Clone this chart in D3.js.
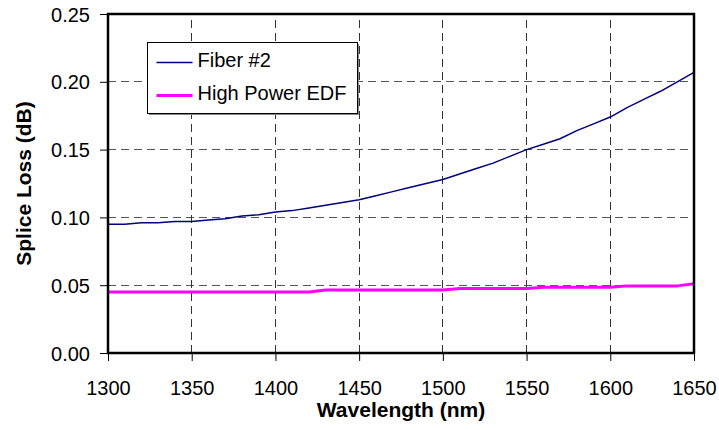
<!DOCTYPE html>
<html>
<head>
<meta charset="utf-8">
<script src="https://cdn.jsdelivr.net/npm/d3@7"></script>
<style>
  body { margin: 0; background: #fff; }
  svg { display: block; font-family: Arial, "Liberation Sans", sans-serif; }
</style>
</head>
<body>
<div id="chart"></div>
<script>
const wavelengths = [1300, 1310, 1320, 1330, 1340, 1350, 1360, 1370, 1380, 1390,
  1400, 1410, 1420, 1430, 1440, 1450, 1460, 1470, 1480, 1490,
  1500, 1510, 1520, 1530, 1540, 1550, 1560, 1570, 1580, 1590,
  1600, 1610, 1620, 1630, 1640, 1650];

const fiber2 = [0.095, 0.095, 0.096, 0.096, 0.097, 0.097, 0.098, 0.099, 0.101, 0.102,
  0.104, 0.105, 0.107, 0.109, 0.111, 0.113, 0.116, 0.119, 0.122, 0.125,
  0.128, 0.132, 0.136, 0.140, 0.145, 0.150, 0.154, 0.158, 0.164, 0.169,
  0.174, 0.181, 0.187, 0.193, 0.200, 0.207];

const highPowerEdf = [0.045, 0.045, 0.045, 0.045, 0.045, 0.045, 0.045, 0.045, 0.045, 0.045,
  0.045, 0.045, 0.045, 0.0465, 0.0465, 0.0465, 0.0465, 0.0465, 0.0465, 0.0465,
  0.0465, 0.0475, 0.0475, 0.0475, 0.0475, 0.0475, 0.0485, 0.0485, 0.0485, 0.0485,
  0.0485, 0.0495, 0.0495, 0.0495, 0.0495, 0.051];

const xTicks = [1300, 1350, 1400, 1450, 1500, 1550, 1600, 1650];
const yTicks = [0, 0.05, 0.10, 0.15, 0.20, 0.25];

const seriesNames = ["Fiber #2", "High Power EDF"];
const seriesColors = ["#000080", "#ff00ff"];
const seriesWidths = [1.5, 3];

const width = 719, height = 430;
const margin = { top: 14, right: 25, bottom: 77, left: 108 };

const x = d3.scaleLinear([1300, 1650], [margin.left, width - margin.right]);
const y = d3.scaleLinear([0, 0.25], [height - margin.bottom, margin.top]);

const svg = d3.select("#chart").append("svg")
  .attr("width", width)
  .attr("height", height);

// grid
svg.append("g")
  .selectAll("line")
  .data(yTicks.slice(1, -1))
  .join("line")
  .attr("x1", x.range()[0]).attr("x2", x.range()[1])
  .attr("y1", d => y(d)).attr("y2", d => y(d))
  .attr("stroke", "#555")
  .attr("stroke-dasharray", "8,5")
  .attr("shape-rendering", "crispEdges");

svg.append("g")
  .selectAll("line")
  .data(xTicks.slice(1, -1))
  .join("line")
  .attr("x1", d => x(d)).attr("x2", d => x(d))
  .attr("y1", y.range()[0]).attr("y2", y.range()[1])
  .attr("stroke", "#333")
  .attr("stroke-dasharray", "8,5")
  .attr("shape-rendering", "crispEdges");

// axes
const yAxis = svg.append("g")
  .attr("transform", `translate(${margin.left},0)`)
  .call(d3.axisLeft(y).tickValues(yTicks).tickFormat(d3.format(".2f")).tickSize(8).tickPadding(10))
  .call(g => g.select(".domain").remove());

const xAxis = svg.append("g")
  .attr("transform", `translate(0,${height - margin.bottom})`)
  .call(d3.axisBottom(x).tickValues(xTicks).tickFormat(d3.format("d")).tickSize(8).tickPadding(20))
  .call(g => g.select(".domain").remove());

[yAxis, xAxis].forEach(g => {
  g.selectAll("text")
    .attr("font-size", 20)
    .attr("font-family", "Arial, 'Liberation Sans', sans-serif")
    .attr("fill", "#000");
  g.selectAll(".tick line").attr("stroke", "#000");
});
yAxis.selectAll("text").attr("dy", "0.35em");

// lines
const series = [fiber2, highPowerEdf];
series.forEach((vals, i) => {
  const line = d3.line()
    .x((d, j) => x(wavelengths[j]))
    .y(d => y(d));
  svg.append("path")
    .attr("fill", "none")
    .attr("stroke", seriesColors[i])
    .attr("stroke-width", seriesWidths[i])
    .attr("stroke-linejoin", "round")
    .attr("d", line(vals));
});

// frame
svg.append("rect")
  .attr("x", x.range()[0])
  .attr("y", y.range()[1])
  .attr("width", x.range()[1] - x.range()[0])
  .attr("height", y.range()[0] - y.range()[1])
  .attr("fill", "none")
  .attr("stroke", "#000")
  .attr("stroke-width", 2.5);

// axis titles
svg.append("text")
  .attr("x", (x.range()[0] + x.range()[1]) / 2)
  .attr("y", 417)
  .attr("text-anchor", "middle")
  .attr("font-size", 21)
  .attr("font-weight", "bold")
  .text("Wavelength (nm)");

svg.append("text")
  .attr("transform", `translate(31,${(y.range()[0] + y.range()[1]) / 2}) rotate(-90)`)
  .attr("text-anchor", "middle")
  .attr("font-size", 21)
  .attr("font-weight", "bold")
  .text("Splice Loss (dB)");

// legend
const legend = svg.append("g").attr("transform", "translate(147.5,42.5)");

legend.append("rect")
  .attr("x", 1.5).attr("y", 1.5)
  .attr("width", 210).attr("height", 71)
  .attr("fill", "#888");

legend.append("rect")
  .attr("width", 210)
  .attr("height", 71)
  .attr("fill", "#fff")
  .attr("stroke", "#000")
  .attr("stroke-width", 1);

seriesNames.forEach((name, i) => {
  const ly = i === 0 ? 20 : 53;
  legend.append("line")
    .attr("x1", 9).attr("x2", 45)
    .attr("y1", ly).attr("y2", ly)
    .attr("stroke", seriesColors[i])
    .attr("stroke-width", seriesWidths[i]);
  legend.append("text")
    .attr("x", 50)
    .attr("y", ly + 4)
    .attr("font-size", 20)
    .text(name);
});
</script>
</body>
</html>
